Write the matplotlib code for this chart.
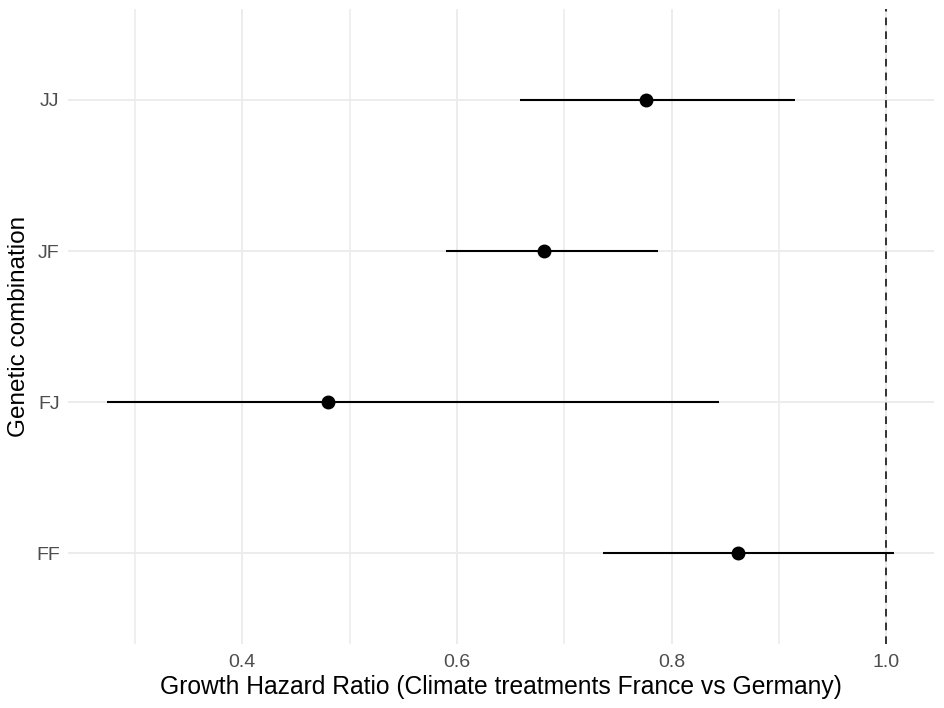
import numpy as np
import matplotlib
matplotlib.use('Agg')
import matplotlib.pyplot as plt
from matplotlib.ticker import MultipleLocator

# hazard ratios per genetic combination
combos = ['FF', 'FJ', 'JF', 'JJ']
hr = [0.8615, 0.4801, 0.6814, 0.7764]
hr_low = [0.7357, 0.2742, 0.5898, 0.6590]
hr_high = [1.0075, 0.8444, 0.7873, 0.9152]
xticks = [0.4, 0.6, 0.8, 1.0]

plt.rcParams['font.family'] = ['Liberation Sans', 'DejaVu Sans']

fig = plt.figure(figsize=(9.44, 7.08), dpi=100)
ax = fig.add_axes([0.072, 0.0904, 0.917, 0.8966])

ypos = np.arange(1, len(combos) + 1)

ax.hlines(ypos, hr_low, hr_high, color='black', linewidth=1.5, zorder=3)
ax.plot(hr, ypos, 'o', color='black', markersize=9, zorder=4)
ax.axvline(1.0, color='black', linestyle=(0, (5, 4)), linewidth=1.1, zorder=2)

# ggplot-style expansion
lo, hi = min(hr_low), max(hr_high)
pad = 0.05 * (hi - lo)
ax.set_xlim(lo - pad, hi + pad)
ax.set_ylim(0.4, len(combos) + 0.6)

ax.set_xticks(xticks)
ax.set_xticklabels(['%.1f' % v for v in xticks])
ax.xaxis.set_minor_locator(MultipleLocator(0.1))
ax.set_yticks(ypos)
ax.set_yticklabels(combos)

ax.grid(True, which='major', color='#EBEBEB', linewidth=1.3, zorder=0)
ax.grid(True, which='minor', axis='x', color='#EBEBEB', linewidth=1.1, zorder=0)
ax.set_axisbelow(True)

for s in ax.spines.values():
    s.set_visible(False)
ax.tick_params(which='both', length=0)
ax.tick_params(axis='x', labelsize=14, labelcolor='#4D4D4D', pad=7)
ax.tick_params(axis='y', labelsize=14, labelcolor='#4D4D4D', pad=6)

ax.set_xlabel('Growth Hazard Ratio (Climate treatments France vs Germany)', fontsize=17.7, labelpad=3)
ax.set_ylabel('Genetic combination', fontsize=17.5, labelpad=4)

fig.savefig('out.png', dpi=100, facecolor='white')
